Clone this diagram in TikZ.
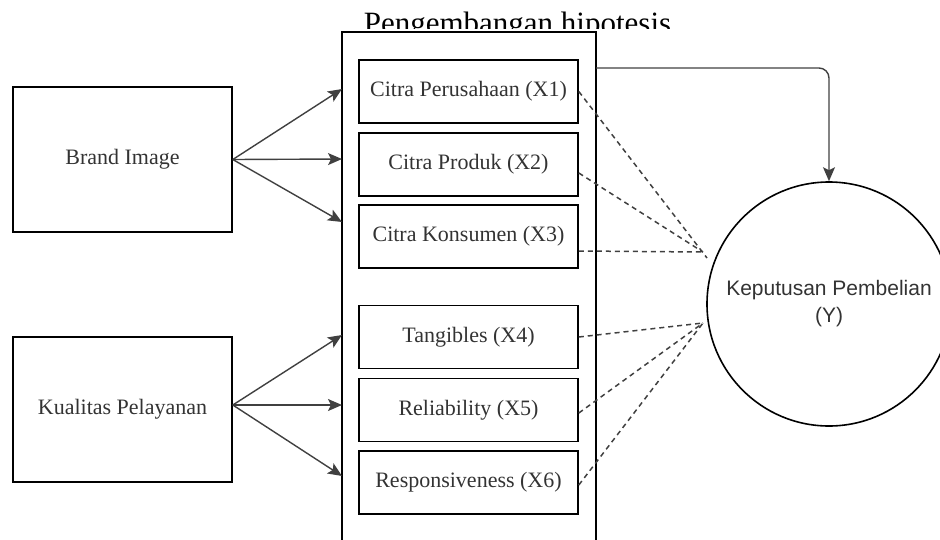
\documentclass[tikz,border=0pt]{standalone}
\usepackage{fontspec}
\setmainfont{Liberation Serif}
\newfontfamily\arialfont{Liberation Sans}
\usetikzlibrary{arrows.meta}
\begin{document}
\begin{tikzpicture}[x=1pt,y=-1pt,
 box/.style={draw, line width=1.6pt, minimum width=219pt, minimum height=63pt, inner sep=0pt, font=\fontsize{22}{26}\selectfont, text=black!80},
 src/.style={draw, line width=1.6pt, minimum width=219pt, minimum height=145pt, inner sep=0pt, font=\fontsize{22}{26}\selectfont, text=black!80},
 arr/.style={line width=1.4pt, draw=black!75, -{Stealth[length=14pt,width=12pt,inset=3pt]}},
 dsh/.style={line width=1.5pt, draw=black!75, dash pattern=on 5pt off 4pt}]
\useasboundingbox (0,0) rectangle (940,539);
\clip (0,0) rectangle (940,539);
\begin{scope}
\clip (0,0) rectangle (940,28.5);
\node[anchor=base, font=\fontsize{31}{36}\selectfont, inner sep=0pt] (title) at (517.5,33) {Pengembangan hipotesis};
\end{scope}
\node[draw, line width=1.6pt, minimum width=254pt, minimum height=540pt, inner sep=0pt] (grp) at (469,302) {};
\node[box] (b1) at (468.5,91.5) {Citra Perusahaan (X1)};
\node[box] (b2) at (468.5,164.5) {Citra Produk (X2)};
\node[box] (b3) at (468.5,236.5) {Citra Konsumen (X3)};
\node[box] (b4) at (468.5,337) {Tangibles (X4)};
\node[box] (b5) at (468.5,410) {Reliability (X5)};
\node[box] (b6) at (468.5,482.5) {Responsiveness (X6)};
\node[src] (bi) at (122.5,159.5) {Brand Image};
\node[src] (ku) at (122.5,409.5) {Kualitas Pelayanan};
\node[circle, draw, line width=1.6pt, minimum size=244pt, inner sep=0pt, align=center, font=\arialfont\fontsize{21}{27}\selectfont, text=black!80] (Y) at (829,304) {Keputusan Pembelian\\(Y)};
% arrows from sources
\coordinate (t1) at (342,89);
\coordinate (t2) at (342,159);
\coordinate (t3) at (342,222);
\coordinate (t4) at (342,335);
\coordinate (t5) at (342,405);
\coordinate (t6) at (342,476);
\coordinate (ko) at ([yshift=4.5pt]ku.east);
\draw[arr] (bi.east) -- (t1);
\draw[arr] (bi.east) -- (t2);
\draw[arr] (bi.east) -- (t3);
\draw[arr] (ko) -- (t4);
\draw[arr] (ko) -- (t5);
\draw[arr] (ko) -- (t6);
% dashed to Y
\coordinate (m1) at (707,258);
\coordinate (m2) at (703,252);
\coordinate (m4) at (703,323);
\draw[dsh] (b1.east) -- (m1);
\draw[dsh] ([yshift=-8.5pt]b2.east) -- (m2);
\draw[dsh] ([yshift=-14.5pt]b3.east) -- (m2);
\draw[dsh] (b4.east) -- (m4);
\draw[dsh] ([yshift=-3pt]b5.east) -- (m4);
\draw[dsh] ([yshift=-2.5pt]b6.east) -- (m4);
% top arrow
\coordinate (c0) at (596,68);
\draw[arr, rounded corners=10pt] (c0) -| (Y.north);
\end{tikzpicture}
\end{document}
